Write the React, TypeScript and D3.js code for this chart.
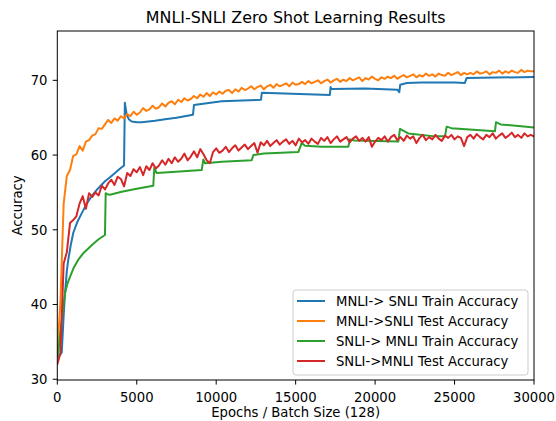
import React from 'react';
import * as d3 from 'd3';

// evaluation step (epochs / batch size) for the noisy test curves
const EVAL_STEP = 200;

const mnliSnliTest = [
  33.5, 40.5, 53.5, 57.2, 58.0, 59.9, 60.1, 61.2, 60.6, 61.8,
  62.0, 62.6, 62.8, 63.6, 63.5, 64.1, 64.7, 64.3, 64.9, 64.6,
  65.2, 64.9, 65.5, 65.2, 65.8, 65.4, 65.7, 66.3, 65.9, 66.1,
  66.6, 66.2, 66.4, 66.9, 66.5, 67.0, 67.2, 66.8, 67.4, 67.1,
  67.6, 67.3, 67.5, 67.9, 67.6, 68.1, 67.8, 68.3, 67.9, 68.4,
  68.1, 68.5, 68.2, 68.6, 68.7, 68.3, 68.8, 68.5, 69.0, 68.7,
  68.9, 69.2, 68.8, 69.1, 69.3, 68.8, 69.2, 69.4, 69.0, 69.5,
  69.2, 69.4, 69.6, 69.2, 69.7, 69.4, 69.5, 69.8, 69.5, 69.9,
  69.6, 69.8, 70.0, 69.6, 69.9, 70.1, 69.7, 70.0, 70.2, 69.8,
  70.1, 69.9, 70.3, 70.0, 70.2, 70.4, 69.9, 70.3, 70.1, 70.5,
  70.2, 70.0, 70.4, 70.2, 70.5, 70.3, 70.6, 70.2, 70.5, 70.7,
  70.4, 70.6, 70.8, 70.4, 70.7, 70.5, 70.9, 70.6, 70.8, 70.5,
  70.9, 70.7, 70.6, 71.0, 70.7, 70.9, 71.1, 70.7, 71.0, 70.8,
  71.0, 70.8, 71.2, 70.9, 71.0, 71.2, 70.8, 71.1, 71.0, 71.3,
  70.9, 71.2, 71.0, 71.3, 71.1, 71.0, 71.4, 71.1, 71.3, 71.2,
  71.2,
];

const snliMnliTest = [
  32.0, 33.5, 45.5, 47.0, 50.9, 51.3, 51.8, 53.5, 54.5, 52.8,
  54.9, 54.4, 55.0, 54.6, 55.9, 55.4, 56.2, 56.7, 56.0, 57.1,
  56.8, 55.8, 57.6, 57.2, 58.1, 57.7, 58.4, 57.3, 58.5, 58.0,
  58.9, 58.2, 58.6, 59.3, 58.7, 59.5, 58.9, 59.7, 59.1, 59.5,
  60.2, 59.3, 59.8, 60.5, 59.7, 60.8, 60.1, 59.3, 58.9, 60.4,
  60.9, 60.3, 60.6, 61.1, 60.4, 60.9, 61.3, 60.6, 61.0, 61.4,
  60.8, 61.2, 61.6, 60.3, 61.7, 61.3, 61.9, 61.2, 61.6, 62.0,
  61.4, 61.8, 62.1, 61.5, 61.9, 61.3, 62.2, 61.7, 62.0, 61.5,
  62.2, 61.8, 61.5, 62.3, 61.9, 62.4, 61.6, 62.1, 62.5, 61.8,
  62.1, 62.4, 61.7, 62.2, 62.5, 61.9, 62.3, 61.8, 62.4, 61.1,
  61.8, 62.3, 62.0, 62.5, 61.8, 62.4, 62.7, 62.0, 62.4, 61.9,
  62.6, 62.2, 62.5, 61.6, 62.3, 62.7, 62.0, 62.4, 62.1, 62.7,
  62.2, 61.9, 62.6, 62.3, 62.7, 62.1, 62.5, 62.3, 61.2, 62.4,
  62.7, 62.2, 62.8, 62.4, 62.1, 62.7, 62.4, 62.9, 62.2, 62.6,
  62.9, 62.3, 62.6, 63.0, 62.4, 62.7, 62.3, 62.9, 62.5, 62.7,
  62.5,
];

const mnliSnliTrainX = [
  0, 150, 280, 400, 485, 600, 692, 850, 1007, 1250,
  1535, 1850, 2164, 2550, 3000, 3300, 3631, 3900, 4200, 4250,
  4367, 4500, 4682, 5000, 5311, 6148, 6777, 7500, 8540, 8600,
  10345, 12820, 12870, 17150, 17200, 17250, 19363, 21400, 21520, 21580,
  22000, 22930, 25027, 25650, 25760, 30000,
];
const mnliSnliTrainY = [
  33.0, 33.2, 33.6, 38.5, 41.5, 44.5, 46.0, 48.0, 49.6, 51.0,
  52.2, 53.5, 54.5, 55.5, 56.5, 57.0, 57.6, 58.1, 58.6, 67.0,
  65.4, 64.8, 64.5, 64.4, 64.4, 64.6, 64.8, 65.0, 65.4, 66.7,
  67.2, 67.4, 68.35, 68.05, 69.1, 68.85, 68.9, 68.75, 68.4, 69.4,
  69.65, 69.7, 69.7, 69.65, 70.3, 70.45,
];

const snliMnliTrainX = [
  0, 63, 150, 277, 400, 485, 640, 799, 1050, 1322,
  1650, 1951, 2250, 2580, 3000, 3045, 3150, 3316, 4052, 5000,
  6040, 6104, 6250, 7000, 9087, 9190, 9300, 10345, 12233, 12337,
  13000, 15166, 15380, 15600, 16638, 18313, 18420, 18700, 21460, 21566,
  22089, 23769, 24397, 24504, 24800, 27545, 27607, 27900, 30000,
];
const snliMnliTrainY = [
  33.2, 33.5, 35.5, 37.9, 40.0, 41.5, 42.8, 43.7, 45.0, 46.0,
  46.9, 47.5, 48.1, 48.7, 49.3, 54.9, 54.75, 54.7, 55.1, 55.5,
  55.9, 58.3, 57.6, 57.7, 58.0, 59.4, 58.9, 59.1, 59.3, 60.0,
  60.2, 60.4, 61.6, 61.25, 61.1, 61.1, 62.1, 61.95, 61.8, 63.5,
  62.9, 62.5, 62.5, 63.8, 63.6, 63.2, 64.4, 64.1, 63.7,
];

const xTicks = [0, 5000, 10000, 15000, 20000, 25000, 30000];
const yTicks = [30, 40, 50, 60, 70];

const seriesNames = [
  'MNLI-> SNLI Train Accuracy',
  'MNLI->SNLI Test Accuracy',
  'SNLI-> MNLI Train Accuracy',
  'SNLI->MNLI Test Accuracy',
];
const seriesColors = ['#1f77b4', '#ff7f0e', '#2ca02c', '#d62728'];

const W = 556;
const H = 421;
const plot = { left: 57.3, right: 534, top: 31, bottom: 380 };
const FONT = 'DejaVu Sans, sans-serif';
const FS = 13.2;

export default function App() {
  const x = d3.scaleLinear().domain([0, 30000]).range([plot.left, plot.right]);
  const y = d3.scaleLinear().domain([29.9, 76.6]).range([plot.bottom, plot.top]);

  const line = d3
    .line<[number, number]>()
    .x((d) => x(d[0]))
    .y((d) => y(d[1]));

  const series: [number, number][][] = [
    mnliSnliTrainX.map((v, i) => [v, mnliSnliTrainY[i]] as [number, number]),
    mnliSnliTest.map((v, i) => [i * EVAL_STEP, v] as [number, number]),
    snliMnliTrainX.map((v, i) => [v, snliMnliTrainY[i]] as [number, number]),
    snliMnliTest.map((v, i) => [i * EVAL_STEP, v] as [number, number]),
  ];

  const legend = { x: 293, y: 290, w: 235, h: 85 };

  return (
    <svg
      width={W}
      height={H}
      style={{ position: 'absolute', left: 0, top: 0, background: '#fff' }}
      fontFamily={FONT}
    >
      <rect x={0} y={0} width={W} height={H} fill="#fff" />
      <defs>
        <clipPath id="plotclip">
          <rect
            x={plot.left}
            y={plot.top}
            width={plot.right - plot.left}
            height={plot.bottom - plot.top}
          />
        </clipPath>
      </defs>

      <text x={(plot.left + plot.right) / 2} y={22.5} textAnchor="middle" fontSize={15.9} fill="#000">
        MNLI-SNLI Zero Shot Learning Results
      </text>

      <g clipPath="url(#plotclip)">
        {series.map((s, i) => (
          <path
            key={i}
            d={line(s) || ''}
            fill="none"
            stroke={seriesColors[i]}
            strokeWidth={2}
            strokeLinejoin="round"
            strokeLinecap="square"
          />
        ))}
      </g>

      <rect
        x={plot.left}
        y={plot.top}
        width={plot.right - plot.left}
        height={plot.bottom - plot.top}
        fill="none"
        stroke="#000"
        strokeWidth={1}
      />

      {xTicks.map((t) => (
        <g key={t}>
          <line x1={x(t)} x2={x(t)} y1={plot.bottom} y2={plot.bottom + 4.6} stroke="#000" strokeWidth={1} />
          <text x={x(t)} y={401.5} textAnchor="middle" fontSize={FS} fill="#000">
            {t}
          </text>
        </g>
      ))}
      {yTicks.map((t) => (
        <g key={t}>
          <line x1={plot.left - 4.6} x2={plot.left} y1={y(t)} y2={y(t)} stroke="#000" strokeWidth={1} />
          <text x={47.5} y={y(t) + 4.8} textAnchor="end" fontSize={FS} fill="#000">
            {t}
          </text>
        </g>
      ))}

      <text x={(plot.left + plot.right) / 2} y={417} textAnchor="middle" fontSize={FS} fill="#000">
        Epochs / Batch Size (128)
      </text>
      <text
        transform={`translate(21.5, ${(plot.top + plot.bottom) / 2}) rotate(-90)`}
        textAnchor="middle"
        fontSize={FS}
        fill="#000"
      >
        Accuracy
      </text>

      <g>
        <rect
          x={legend.x}
          y={legend.y}
          width={legend.w}
          height={legend.h}
          rx={3}
          fill="#fff"
          fillOpacity={0.8}
          stroke="#cccccc"
          strokeWidth={1}
        />
        {seriesNames.map((name, i) => {
          const cy = legend.y + 11 + i * 20;
          return (
            <g key={name}>
              <line x1={297} x2={325} y1={cy} y2={cy} stroke={seriesColors[i]} strokeWidth={2} />
              <text x={336} y={cy + 4.8} fontSize={FS} fill="#000">
                {name}
              </text>
            </g>
          );
        })}
      </g>
    </svg>
  );
}
